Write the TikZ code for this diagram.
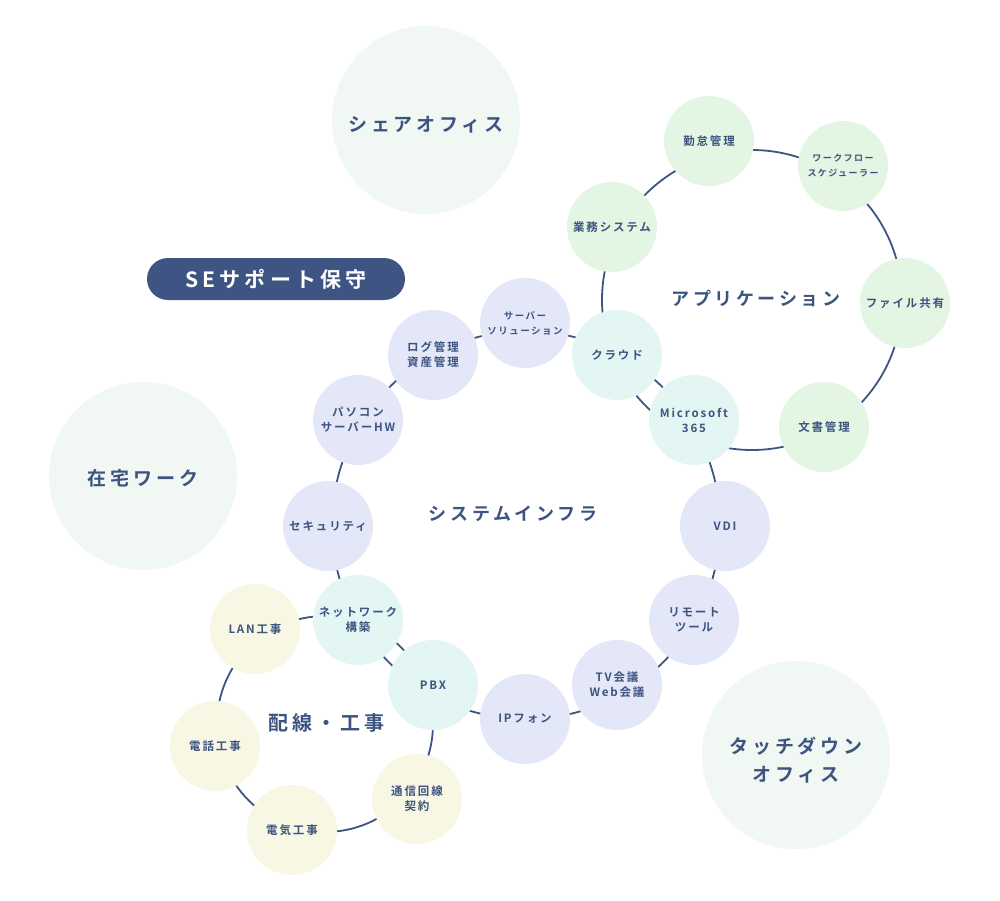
\documentclass[tikz,border=0pt]{standalone}
\usepackage{fontspec}
\setmainfont{Noto Sans CJK JP}[UprightFont={* Medium},BoldFont={* Bold},LetterSpace=16]
\usetikzlibrary{positioning}
\definecolor{SENavy}{HTML}{3E5583}
\definecolor{SEText}{HTML}{3D5480}
\definecolor{SEPale}{HTML}{F1F7F3}
\definecolor{SEGreen}{HTML}{E3F6E3}
\definecolor{SECyan}{HTML}{E3F6F4}
\definecolor{SELavender}{HTML}{E4E7F8}
\definecolor{SECream}{HTML}{F7F7E4}
\tikzset{
  dot/.style={circle, minimum size=90pt, inner sep=0pt, align=center, text=SEText, font=\fontsize{11.5}{15}\selectfont\bfseries},
  appdot/.style={dot, fill=SEGreen},
  clouddot/.style={dot, fill=SECyan},
  infradot/.style={dot, fill=SELavender},
  wiredot/.style={dot, fill=SECream},
  bigdot/.style={circle, minimum size=188pt, inner sep=0pt, align=center, fill=SEPale, text=SEText, font=\fontsize{19}{28}\selectfont\bfseries\addfontfeature{LetterSpace=20}},
  ringlabel/.style={text=SEText, font=\fontsize{18}{20}\selectfont\bfseries\addfontfeature{LetterSpace=20}},
  ring/.style={draw=SENavy, line width=1.8pt},
  banner/.style={fill=SENavy, text=white, rounded corners=21pt, minimum width=258pt, minimum height=42pt, font=\fontsize{21}{24}\selectfont\bfseries\addfontfeature{LetterSpace=20}}
}
\begin{document}
\begin{tikzpicture}[x=1pt,y=-1pt]
\useasboundingbox (0,0) rectangle (1000,900);
\coordinate (appc) at (752,300);
\coordinate (infrac) at (526,525);
\coordinate (wirec) at (325,724);
\draw[ring] (appc) circle (150pt);
\draw[ring] (infrac) circle (194pt);
\draw[ring] (wirec) circle (108pt);
\node[bigdot] (share) at (426,120) {};
\node[bigdot] (home) at (143,476) {};
\node[bigdot] (touch) at (796,755) {};
\node[bigdot, fill=none, minimum size=0pt] (sharetext) at (426,125) {シェアオフィス};
\node[bigdot, fill=none, minimum size=0pt] (hometext) at (143,478) {在宅ワーク};
\node[bigdot, fill=none, minimum size=0pt] (touchtext) at (796,760) {タッチダウン\\オフィス};
\node[banner] (se) at (276,279) {SEサポート保守};
\node[appdot] (kintai) at (709,141) {勤怠管理};
\node[appdot, font=\fontsize{9}{15}\selectfont\bfseries] (flow) at (843,166) {ワークフロー\\スケジューラー};
\node[appdot] (file) at (905,303) {ファイル共有};
\node[appdot] (doc) at (824,427) {文書管理};
\node[appdot] (gyomu) at (612,227) {業務システム};
\node[clouddot] (cloud) at (617,355) {クラウド};
\node[clouddot] (ms) at (694,420) {Microsoft\\365};
\node[infradot, font=\fontsize{9.5}{15}\selectfont\bfseries] (server) at (525,323) {サーバー\\ソリューション};
\node[infradot] (log) at (433,355) {ログ管理\\資産管理};
\node[infradot] (pc) at (358,420) {パソコン\\サーバーHW};
\node[infradot] (sec) at (328,526) {セキュリティ};
\node[clouddot] (net) at (358,620) {ネットワーク\\構築};
\node[clouddot] (pbx) at (433,685) {PBX};
\node[infradot] (ip) at (525,719) {IPフォン};
\node[infradot] (tv) at (617,685) {TV会議\\Web会議};
\node[infradot] (remote) at (694,620) {リモート\\ツール};
\node[infradot] (vdi) at (725,526) {VDI};
\node[wiredot] (lan) at (255,629) {LAN工事};
\node[wiredot] (tel) at (215,746) {電話工事};
\node[wiredot] (elec) at (292,830) {電気工事};
\node[wiredot] (line) at (417,799) {通信回線\\契約};
\node[ringlabel] (applabel) at (756,298) {アプリケーション};
\node[ringlabel] (infralabel) at (513,514) {システムインフラ};
\node[ringlabel, font=\fontsize{20}{22}\selectfont\bfseries\addfontfeature{LetterSpace=20}] (wirelabel) at (326,723) {配線・工事};
\end{tikzpicture}
\end{document}
